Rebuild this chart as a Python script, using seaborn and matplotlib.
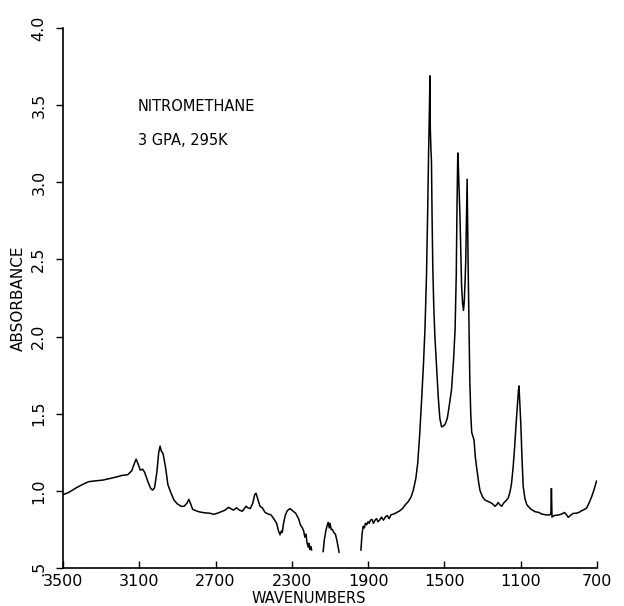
import numpy as np
import pandas as pd
import matplotlib
matplotlib.use("Agg")
import matplotlib.pyplot as plt
import seaborn as sns

# ---- data ----
seg1_wn = [3500, 3470, 3430, 3400, 3367, 3330, 3290, 3254, 3220, 3190, 3160, 3140, 3125, 3117, 3108,
           3095, 3082, 3072, 3055, 3040, 3030, 3020, 3008, 2998, 2991, 2985, 2975, 2962, 2950, 2935,
           2918, 2900, 2880, 2865, 2850, 2840, 2832, 2820, 2790, 2760, 2730, 2710, 2690, 2670, 2650,
           2633, 2620, 2607, 2590, 2575, 2560, 2540, 2530, 2518, 2505, 2495, 2488, 2478, 2467, 2455,
           2440, 2425, 2410, 2395, 2380, 2370, 2362, 2355, 2350, 2345, 2335, 2325, 2310, 2295, 2280,
           2265, 2255, 2245, 2238, 2232, 2226, 2220, 2214, 2210, 2205, 2200, 2196]
seg1_abs = [0.975, 0.99, 1.02, 1.04, 1.059, 1.065, 1.07, 1.08, 1.09, 1.10, 1.105, 1.13, 1.18, 1.205, 1.18,
            1.135, 1.14, 1.12, 1.06, 1.015, 1.005, 1.02, 1.12, 1.25, 1.29, 1.26, 1.24, 1.15, 1.04, 0.99,
            0.94, 0.915, 0.90, 0.90, 0.92, 0.945, 0.92, 0.88, 0.865, 0.858, 0.855, 0.848, 0.855, 0.865, 0.875,
            0.893, 0.885, 0.875, 0.89, 0.875, 0.868, 0.90, 0.89, 0.885, 0.92, 0.975, 0.985, 0.945, 0.90, 0.89,
            0.86, 0.85, 0.845, 0.82, 0.79, 0.74, 0.715, 0.74, 0.73, 0.78, 0.84, 0.87, 0.885, 0.87, 0.855,
            0.82, 0.78, 0.76, 0.74, 0.70, 0.72, 0.66, 0.635, 0.66, 0.62, 0.64, 0.615]

seg2_wn = [2136, 2130, 2122, 2114, 2109, 2104, 2100, 2094, 2088, 2080, 2072, 2064, 2058, 2052]
seg2_abs = [0.605, 0.68, 0.74, 0.78, 0.795, 0.76, 0.79, 0.75, 0.75, 0.73, 0.72, 0.68, 0.64, 0.60]

seg3_wn = [1938, 1932, 1926, 1920, 1914, 1908, 1900, 1894, 1888, 1880, 1872, 1864, 1856, 1848, 1840,
           1830, 1820, 1810, 1800, 1790, 1780, 1765, 1750, 1735, 1720, 1705, 1690, 1675, 1663, 1650,
           1640, 1630, 1620, 1610, 1602, 1594, 1588, 1583, 1579, 1576, 1574, 1571, 1568, 1565, 1561,
           1556, 1550, 1541, 1532, 1524, 1515, 1505, 1495, 1485, 1475, 1463, 1452, 1444, 1438, 1434,
           1430, 1427, 1423, 1419, 1414, 1410, 1405, 1400, 1396, 1392, 1388, 1384, 1381, 1378, 1375,
           1371, 1367, 1362, 1357, 1352, 1345, 1338, 1331, 1320, 1314, 1300, 1287, 1270, 1252, 1243,
           1235, 1226, 1218, 1210, 1200, 1190, 1178, 1165, 1155, 1148, 1140, 1132, 1125, 1117, 1112,
           1109, 1105, 1099, 1093, 1087, 1078, 1068, 1061, 1045, 1025, 1005, 990, 970, 950, 942,
           939, 936, 925, 905, 885, 870, 860, 851, 840, 825, 810, 795, 781, 765, 754,
           742, 728, 715, 702]
seg3_abs = [0.615, 0.72, 0.77, 0.76, 0.79, 0.78, 0.80, 0.79, 0.81, 0.815, 0.79, 0.81, 0.82, 0.80, 0.81,
            0.83, 0.81, 0.83, 0.84, 0.82, 0.845, 0.85, 0.86, 0.87, 0.885, 0.91, 0.93, 0.96, 1.005, 1.08,
            1.18, 1.36, 1.58, 1.82, 2.05, 2.4, 2.8, 3.2, 3.45, 3.69, 3.35, 3.22, 3.14, 2.8, 2.45,
            2.2, 2.0, 1.8, 1.6, 1.47, 1.415, 1.42, 1.435, 1.47, 1.55, 1.654, 1.85, 2.05, 2.4, 2.85,
            3.19, 3.1, 2.95, 2.8, 2.55, 2.33, 2.22, 2.17, 2.23, 2.35, 2.5, 2.8, 3.02, 2.7, 2.4,
            2.05, 1.72, 1.5, 1.38, 1.36, 1.33, 1.22, 1.15, 1.05, 1.005, 0.96, 0.94, 0.93, 0.92, 0.91,
            0.90, 0.91, 0.925, 0.91, 0.90, 0.92, 0.935, 0.955, 1.0, 1.05, 1.15, 1.28, 1.42, 1.56, 1.65,
            1.68, 1.58, 1.42, 1.2, 1.03, 0.95, 0.91, 0.90, 0.88, 0.865, 0.86, 0.85, 0.845, 0.843, 0.85,
            1.015, 0.83, 0.84, 0.843, 0.85, 0.86, 0.845, 0.828, 0.84, 0.854, 0.855, 0.86, 0.871, 0.88, 0.89,
            0.92, 0.962, 1.01, 1.065]

x_ticks = [3500, 3100, 2700, 2300, 1900, 1500, 1100, 700]
y_ticks = [0.5, 1.0, 1.5, 2.0, 2.5, 3.0, 3.5, 4.0]
y_tick_labels = [".5", "1.0", "1.5", "2.0", "2.5", "3.0", "3.5", "4.0"]
title_lines = ["NITROMETHANE", "3 GPA, 295K"]

frames = []
for i, (w, a) in enumerate([(seg1_wn, seg1_abs), (seg2_wn, seg2_abs), (seg3_wn, seg3_abs)]):
    frames.append(pd.DataFrame({"wn": w, "absorbance": a, "seg": i}))
df = pd.concat(frames, ignore_index=True)

sns.set_style("ticks")
plt.rcParams["font.family"] = ["DejaVu Sans"]
plt.rcParams["text.color"] = "black"
plt.rcParams["axes.labelcolor"] = "black"

fig = plt.figure(figsize=(6.24, 6.06), dpi=100)
ax = fig.add_axes([63 / 624, 1 - 568 / 606, (597 - 63) / 624, (568 - 28) / 606])

sns.lineplot(data=df, x="wn", y="absorbance", units="seg", estimator=None, sort=False,
             color="black", linewidth=1.1, ax=ax)

ax.set_xlim(3500, 700)
ax.set_ylim(0.5, 4.0)
ax.set_xticks(x_ticks)
ax.set_xticklabels([str(t) for t in x_ticks], fontsize=11.5)
ax.set_yticks(y_ticks)
ax.set_yticklabels(y_tick_labels, fontsize=11.5, rotation=90, va="center")
ax.tick_params(axis="x", direction="in", length=5, width=1, pad=4, colors="black")
ax.tick_params(axis="y", direction="out", length=5, width=1, pad=7, colors="black")

for s in ["top", "right"]:
    ax.spines[s].set_visible(False)
for s in ["left", "bottom"]:
    ax.spines[s].set_color("black")
    ax.spines[s].set_linewidth(1.2)

ax.set_xlabel("WAVENUMBERS", fontsize=10.5, labelpad=0, color="black")
ax.set_ylabel("ABSORBANCE", fontsize=11, labelpad=4, color="black")
ax.xaxis.set_label_coords(0.46, -0.043)

ax.text(3107, 3.49, title_lines[0], fontsize=10.5, ha="left", va="center", color="black")
ax.text(3107, 3.27, title_lines[1], fontsize=10.5, ha="left", va="center", color="black")

fig.savefig("out.png", dpi=100, facecolor="white")
